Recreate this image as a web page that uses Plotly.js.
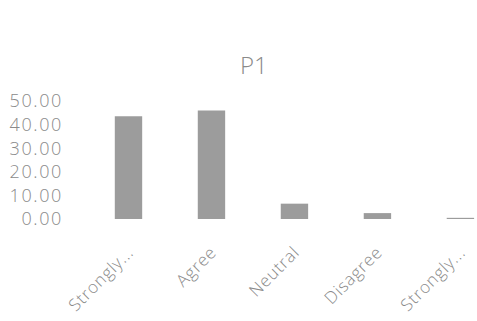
<!DOCTYPE html>
<html><head><meta charset="utf-8">
<script src="https://cdn.plot.ly/plotly-3.0.1.min.js"></script>
<style>html,body{margin:0;padding:0;background:#fff;}#chart{width:477px;height:321px;}
.ytick text{letter-spacing:1.6px;}
.xtick text{letter-spacing:0.8px;}
</style>
</head><body><div id="chart"></div>
<script>
const categories = ["Strongly...", "Agree", "Neutral", "Disagree", "Strongly..."];
const values = [43.5, 46.0, 6.5, 2.5, 0.5];
const tickVals = [0, 10, 20, 30, 40, 50];
const tickText = ["0.00", "10.00", "20.00", "30.00", "40.00", "50.00"];

const trace = {
  type: "bar",
  x: [0, 1, 2, 3, 4],
  y: values,
  marker: {color: "#9c9c9c"},
  hoverinfo: "skip"
};
const layout = {
  width: 477, height: 321,
  margin: {l: 87, r: 0, t: 101, b: 102},
  paper_bgcolor: "#fff", plot_bgcolor: "#fff",
  title: {text: "P1", x: 0.532, xanchor: "center", y: 0.795, yanchor: "middle",
          font: {family: "Open Sans", size: 24, weight: 300, color: "#8a8a8a"}},
  bargap: 0.67,
  showlegend: false,
  xaxis: {
    range: [-0.5, 4.2], tickmode: "array", tickvals: [0, 1, 2, 3, 4], ticktext: categories,
    tickangle: -45, showgrid: false, zeroline: false, showline: false, ticks: "",
    ticklabelstandoff: 19,
    tickfont: {family: "Open Sans", size: 17, weight: 300, color: "#8a8a8a"}
  },
  yaxis: {
    range: [0, 50], tickmode: "array", tickvals: tickVals, ticktext: tickText,
    showgrid: false, zeroline: false, showline: false, ticks: "", ticklabelstandoff: 23,
    tickfont: {family: "Open Sans", size: 18, weight: 300, color: "#8a8a8a"}
  }
};
Plotly.newPlot("chart", [trace], layout, {staticPlot: true, displayModeBar: false});
</script></body></html>
